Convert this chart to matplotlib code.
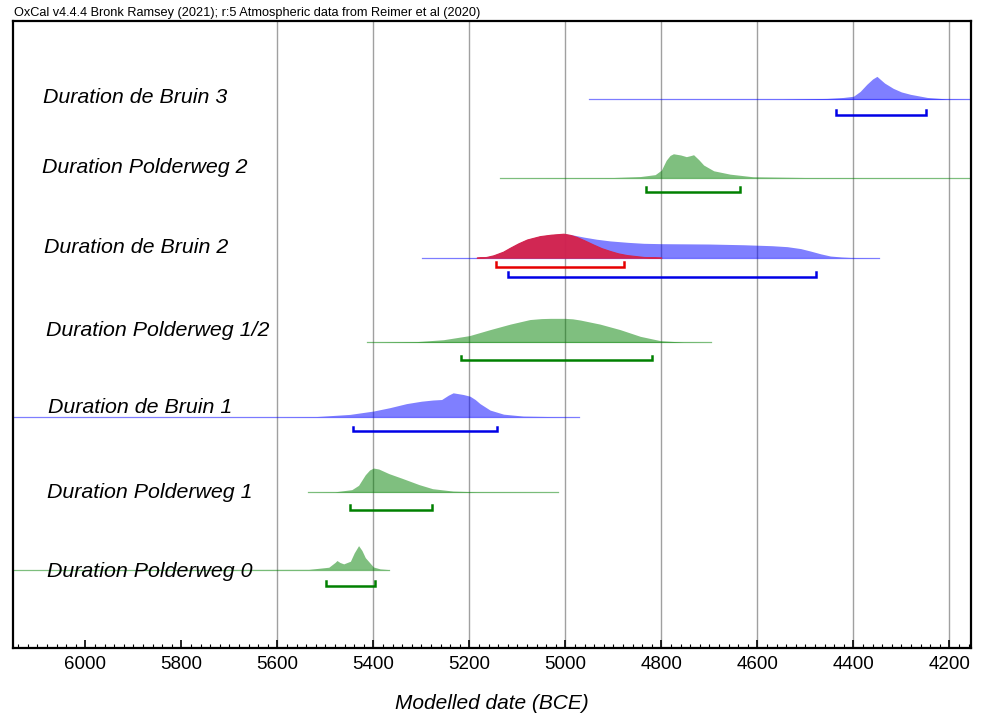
import numpy as np
import matplotlib
matplotlib.use("Agg")
from matplotlib import pyplot as plt
from matplotlib.ticker import MultipleLocator

plt.rcParams["font.family"] = ["Liberation Sans", "DejaVu Sans"]

# row labels, top to bottom
names = [
    "Duration de Bruin 3",
    "Duration Polderweg 2",
    "Duration de Bruin 2",
    "Duration Polderweg 1/2",
    "Duration de Bruin 1",
    "Duration Polderweg 1",
    "Duration Polderweg 0",
]

# modelled distributions: years (BCE) and relative probability
bruin3_years = [4951, 4550, 4455, 4421, 4400, 4386, 4372, 4360, 4351, 4335, 4317, 4300,
                4281, 4246, 4206, 4155]
bruin3_dens = [0, 0.01, 0.04, 0.08, 0.13, 0.33, 0.63, 0.85, 0.96, 0.68, 0.46, 0.31,
               0.21, 0.08, 0.02, 0.005]

polder2_years = [5136, 4900, 4844, 4813, 4800, 4790, 4782, 4775, 4760, 4748, 4740, 4733,
                 4722, 4712, 4691, 4657, 4609, 4500, 4155]
polder2_dens = [0, 0.01, 0.05, 0.13, 0.32, 0.73, 0.93, 1.0, 0.95, 0.88, 0.92, 0.96,
                0.75, 0.53, 0.29, 0.15, 0.04, 0.01, 0]

bruin2_years = [5299, 5200, 5185, 5165, 5150, 5130, 5115, 5098, 5080, 5053, 5030, 5004,
                4985, 4962, 4935, 4907, 4870, 4837, 4800, 4768, 4700, 4629, 4570,
                4538, 4510, 4490, 4468, 4448, 4425, 4406, 4347]
bruin2_dens = [0, 0.005, 0.01, 0.03, 0.1, 0.25, 0.42, 0.6, 0.76, 0.9, 0.96, 1.0,
               0.95, 0.86, 0.77, 0.70, 0.64, 0.60, 0.585, 0.58, 0.57, 0.54, 0.5,
               0.46, 0.38, 0.28, 0.16, 0.07, 0.03, 0.01, 0]

# second (red) distribution on the de Bruin 2 row
bruin2b_years = [5185, 5165, 5150, 5130, 5115, 5098, 5080, 5053, 5030, 5004, 4990, 4976,
                 4960, 4942, 4925, 4907, 4890, 4872, 4837, 4800]
bruin2b_dens = [0, 0.03, 0.1, 0.25, 0.42, 0.6, 0.76, 0.9, 0.96, 1.0, 0.95, 0.86,
                0.72, 0.55, 0.4, 0.28, 0.18, 0.11, 0.03, 0]

polder12_years = [5414, 5310, 5254, 5200, 5157, 5115, 5074, 5050, 5032, 5001, 4985, 4969,
                  4928, 4886, 4844, 4802, 4754, 4696]
polder12_dens = [0, 0.03, 0.11, 0.28, 0.53, 0.76, 0.95, 0.99, 1.0, 1.0, 0.98, 0.93,
                 0.76, 0.53, 0.25, 0.07, 0.01, 0]

bruin1_years = [6151, 5600, 5519, 5449, 5400, 5366, 5331, 5300, 5276, 5258, 5244, 5234,
                5213, 5199, 5188, 5178, 5157, 5129, 5088, 5032, 4971]
bruin1_dens = [0, 0.003, 0.01, 0.1, 0.24, 0.38, 0.55, 0.65, 0.70, 0.72, 0.9, 1.0,
               0.93, 0.86, 0.72, 0.55, 0.28, 0.11, 0.03, 0.01, 0]

polder1_years = [5536, 5480, 5445, 5431, 5417, 5408, 5400, 5389, 5368, 5340, 5305, 5277,
                 5234, 5185, 5016]
polder1_dens = [0, 0.01, 0.1, 0.28, 0.72, 0.92, 1.0, 0.96, 0.77, 0.57, 0.31, 0.14,
                0.04, 0.01, 0]

polder0_years = [6151, 5535, 5493, 5480, 5476, 5470, 5462, 5448, 5440, 5431, 5424, 5417,
                 5400, 5386, 5367]
polder0_dens = [0, 0.01, 0.1, 0.3, 0.38, 0.3, 0.24, 0.35, 0.7, 1.0, 0.8, 0.5,
                0.11, 0.03, 0]

# 95.4% ranges (start, end)
bruin3_range = (4437, 4249)
polder2_range = (4833, 4637)
bruin2_range = (5119, 4477)
bruin2b_range = (5145, 4879)
polder12_range = (5218, 4820)
bruin1_range = (5443, 5143)
polder1_range = (5448, 5277)
polder0_range = (5498, 5397)

BLUE_FILL, BLUE_LINE = "#0000ff", "#0000e6"
GREEN_FILL, GREEN_LINE = "#008000", "#008000"
RED_FILL, RED_LINE = "#d6224a", "#e60000"

# (years, dens, range, fill, bracket colour, bracket offset)
rows = [
    [(bruin3_years, bruin3_dens, bruin3_range, BLUE_FILL, BLUE_LINE, 0.2)],
    [(polder2_years, polder2_dens, polder2_range, GREEN_FILL, GREEN_LINE, 0.18)],
    [(bruin2_years, bruin2_dens, bruin2_range, BLUE_FILL, BLUE_LINE, 0.245),
     (bruin2b_years, bruin2b_dens, bruin2b_range, RED_FILL, RED_LINE, 0.12)],
    [(polder12_years, polder12_dens, polder12_range, GREEN_FILL, GREEN_LINE, 0.23)],
    [(bruin1_years, bruin1_dens, bruin1_range, BLUE_FILL, BLUE_LINE, 0.185)],
    [(polder1_years, polder1_dens, polder1_range, GREEN_FILL, GREEN_LINE, 0.23)],
    [(polder0_years, polder0_dens, polder0_range, GREEN_FILL, GREEN_LINE, 0.21)],
]
row_y = [7.0, 6.0, 4.98, 3.9, 2.95, 1.99, 1.0]
label_y = [7.02, 6.13, 5.11, 4.05, 3.07, 1.99, 0.98]
label_x = [6089, 6091, 6087, 6083, 6079, 6081, 6081]
peak_h = 0.306

fig = plt.figure(figsize=(9.84, 7.15), dpi=100)
ax = fig.add_axes([13 / 984, 67 / 715, 958 / 984, 627 / 715])
ax.set_xlim(6151, 4155)
ax.set_ylim(0, 8.0)

for yr in range(4200, 5601, 200):
    ax.axvline(yr, color="#a0a0a0", lw=1.0, zorder=0)

for base, entries, name, lx, ly in zip(row_y, rows, names, label_x, label_y):
    for yrs, dens, rng, fill, bcol, off in entries:
        top = base + peak_h * np.array(dens)
        if fill == RED_FILL:
            ax.fill_between(yrs, base, top, color=fill, alpha=0.95, lw=0.8, zorder=3)
        else:
            ax.fill_between(yrs, base, top, color=fill, alpha=0.5, lw=0, zorder=2)
            ax.plot([yrs[0], yrs[-1]], [base, base], color=fill, alpha=0.5, lw=0.9, zorder=2)
        by = base - off
        tick = 0.06
        ax.plot([rng[0], rng[0], rng[1], rng[1]], [by + tick, by, by, by + tick],
                color=bcol, lw=1.8, solid_joinstyle="miter", zorder=4)
    ax.text(lx, ly, name, fontsize=15.4, style="italic", ha="left", va="center", zorder=5)

ax.xaxis.set_major_locator(MultipleLocator(200))
ax.xaxis.set_minor_locator(MultipleLocator(20))
ax.tick_params(axis="x", which="major", direction="in", length=6, width=1.2,
               labelsize=13.5, pad=6)
ax.tick_params(axis="x", which="minor", direction="in", length=3, width=0.8)
ax.set_yticks([])
for side in ax.spines.values():
    side.set_linewidth(1.6)

ax.set_xlabel("Modelled date (BCE)", fontsize=15, style="italic", labelpad=15)
fig.text(14 / 984, 1 - 13 / 715, "OxCal v4.4.4 Bronk Ramsey (2021); r:5 Atmospheric data from Reimer et al (2020)",
         fontsize=9.2, ha="left", va="center")

fig.savefig("out.png", dpi=100)
